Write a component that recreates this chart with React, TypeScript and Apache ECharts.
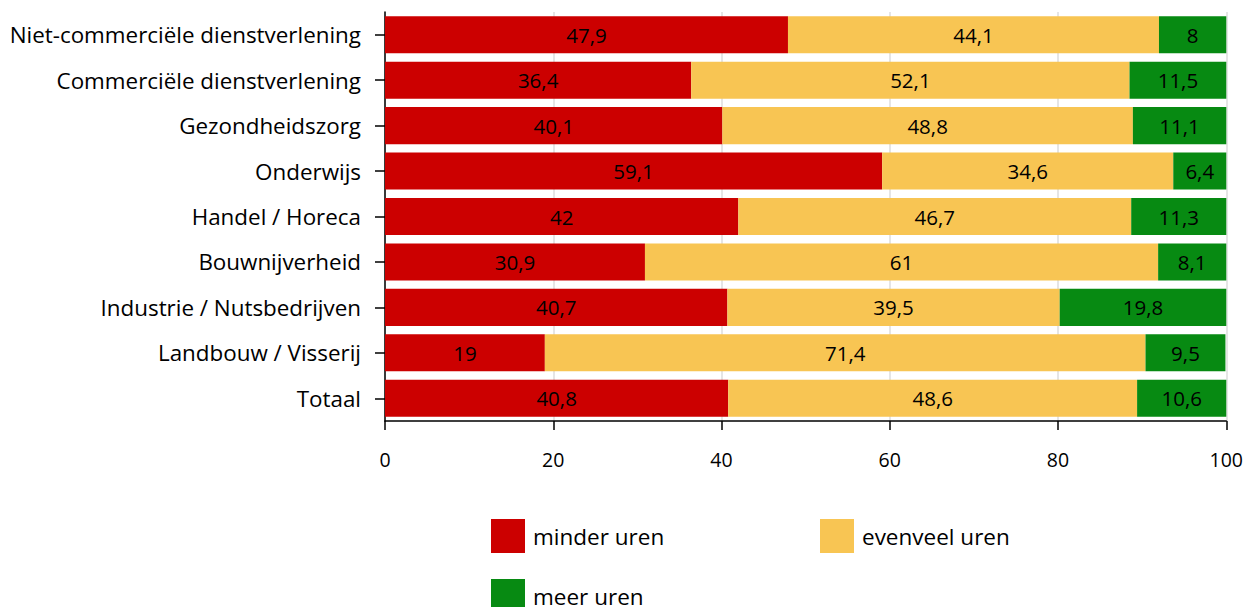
import React, { useEffect, useRef } from "react";
import * as echarts from "echarts";

const categories = [
  "Niet-commerciële dienstverlening",
  "Commerciële dienstverlening",
  "Gezondheidszorg",
  "Onderwijs",
  "Handel / Horeca",
  "Bouwnijverheid",
  "Industrie / Nutsbedrijven",
  "Landbouw / Visserij",
  "Totaal",
];
const minderUren = [47.9, 36.4, 40.1, 59.1, 42, 30.9, 40.7, 19, 40.8];
const evenveelUren = [44.1, 52.1, 48.8, 34.6, 46.7, 61, 39.5, 71.4, 48.6];
const meerUren = [8, 11.5, 11.1, 6.4, 11.3, 8.1, 19.8, 9.5, 10.6];
const seriesNames = ["minder uren", "evenveel uren", "meer uren"];
const colors = ["#cc0000", "#f8c553", "#078a12"];

const FONT = "'Open Sans', 'Noto Sans', sans-serif";

export default function App() {
  const ref = useRef<HTMLDivElement>(null);
  useEffect(() => {
    const chart = echarts.init(ref.current!, null, { renderer: "svg" });
    const fmt = (p: any) => String(p.value).replace(".", ",");
    const mk = (name: string, data: number[], color: string) => ({
      name,
      type: "bar",
      stack: "total",
      data,
      barCategoryGap: "18.5%",
      itemStyle: { color },
      label: {
        show: true,
        position: "inside",
        formatter: fmt,
        color: "#000",
        fontSize: 20.5,
        fontFamily: FONT,
      },
    });
    const legendBase = {
      orient: "horizontal",
      itemWidth: 34,
      itemHeight: 34,
      icon: "rect",
      padding: 0,
      textStyle: { fontSize: 22.5, fontFamily: FONT, color: "#000", padding: [0, 0, 0, 3] },
      itemGap: 10,
    };
    chart.setOption({
      animation: false,
      color: colors,
      grid: { left: 385, right: 18, top: 12, bottom: 186 },
      xAxis: {
        type: "value",
        min: 0,
        max: 100,
        interval: 20,
        axisLine: { show: true, lineStyle: { color: "#000", width: 1.5 } },
        axisTick: { show: true, length: 9, lineStyle: { color: "#000", width: 1.5 } },
        splitLine: { show: true, lineStyle: { color: "#dddddd", width: 1.5 } },
        axisLabel: { fontSize: 19.5, fontFamily: FONT, color: "#000", margin: 28 },
      },
      yAxis: {
        type: "category",
        data: categories,
        inverse: true,
        axisLine: { show: true, lineStyle: { color: "#000", width: 1.5 } },
        axisTick: { show: true, length: 10, alignWithLabel: true, lineStyle: { color: "#000", width: 1.5 } },
        axisLabel: { fontSize: 22.4, fontFamily: FONT, color: "#000", margin: 24 },
      },
      legend: [
        { ...legendBase, data: [seriesNames[0]], left: 491, top: 519 },
        { ...legendBase, data: [seriesNames[1]], left: 820, top: 519 },
        { ...legendBase, data: [seriesNames[2]], left: 491, top: 579 },
      ],
      series: [
        mk(seriesNames[0], minderUren, colors[0]),
        mk(seriesNames[1], evenveelUren, colors[1]),
        mk(seriesNames[2], meerUren, colors[2]),
      ],
    });
    return () => chart.dispose();
  }, []);
  return (
    <div
      ref={ref}
      style={{ position: "fixed", left: 0, top: 0, width: 1246, height: 607, background: "#fff" }}
    />
  );
}
